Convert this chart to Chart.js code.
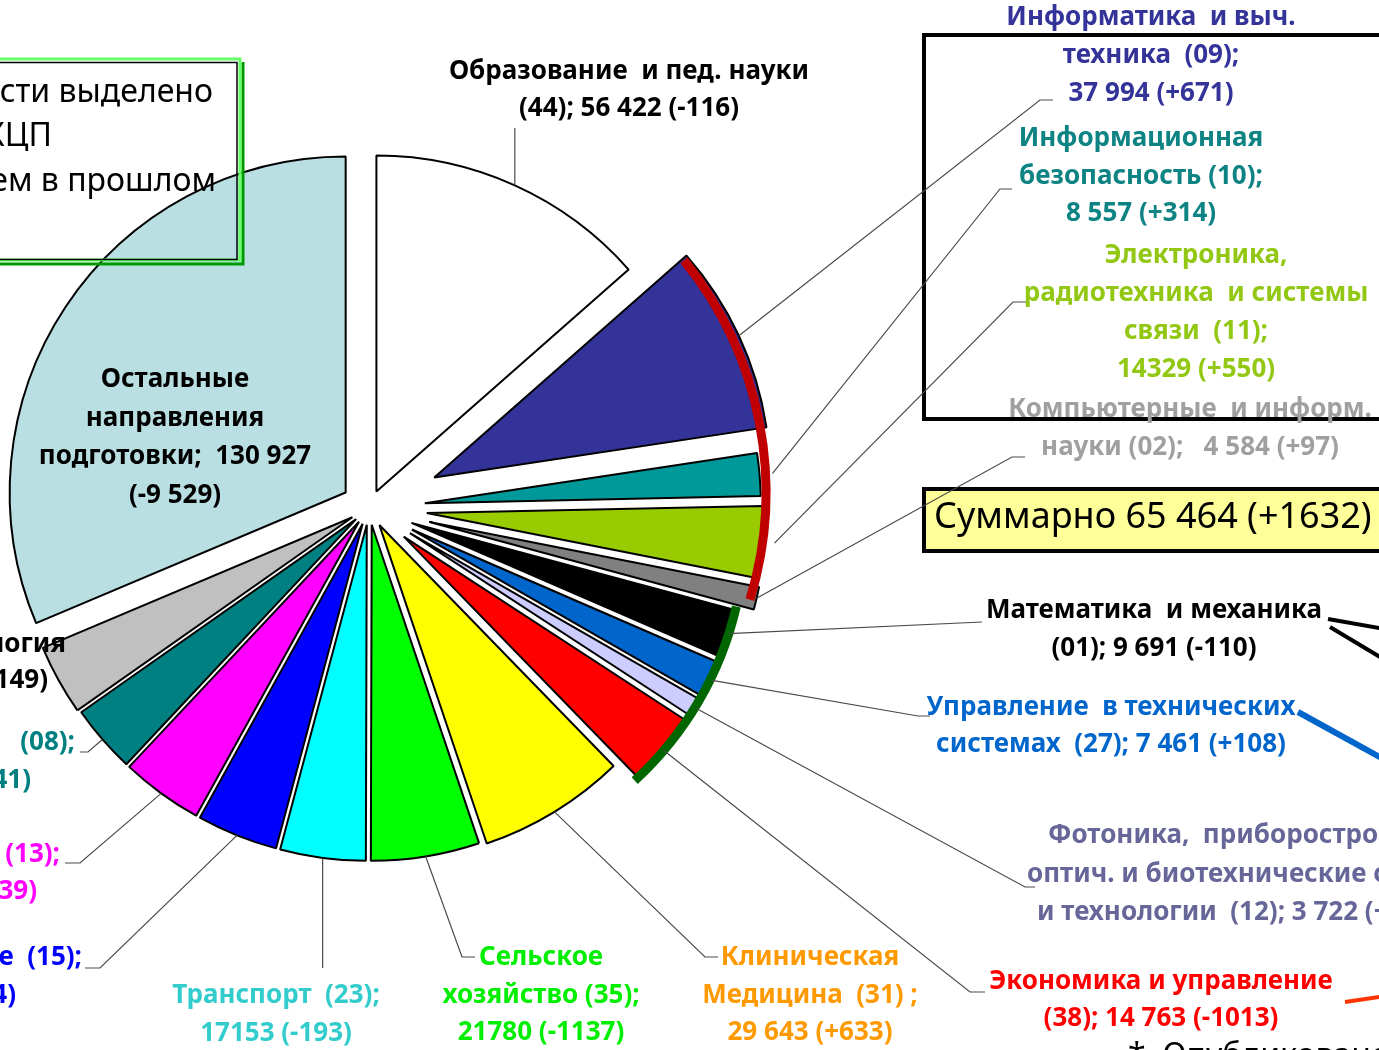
<!DOCTYPE html>
<html>
<head>
<meta charset="utf-8">
<script src="https://cdn.jsdelivr.net/npm/chart.js@4"></script>
<style>
  html, body { margin: 0; padding: 0; background: #fff; }
  #wrap { width: 1379px; height: 1050px; }
</style>
</head>
<body>
<div id="wrap"><canvas id="chart" width="1379" height="1050"></canvas></div>
<script>
// Укрупнённые группы направлений, по часовой стрелке от 12 часов
const categories = [
  "Образование и пед. науки",
  "Информатика и выч. техника",
  "Информационная безопасность",
  "Электроника, радиотехника и системы связи",
  "Компьютерные и информ. науки",
  "Математика и механика",
  "Управление в технических системах",
  "Фотоника, приборостроение, оптич. и биотехнические системы и технологии",
  "Экономика и управление",
  "Клиническая медицина",
  "Сельское хозяйство",
  "Транспорт",
  "Машиностроение",
  "Электро- и теплоэнергетика",
  "Техника и технологии строительства",
  "Химическая технология",
  "Остальные направления подготовки"
];
const codes = ["44", "09", "10", "11", "02", "01", "27", "12", "38", "31", "35", "23", "15", "13", "08", "18", ""];
const values = [56422, 37994, 8557, 14329, 4584, 9691, 7461, 3722, 14763, 29643, 21780, 17153, 16284, 16439, 13641, 14149, 130927];
const changes = [-116, 671, 314, 550, 97, -110, 108, 58, -1013, 633, -1137, -193, -254, 339, -241, 149, -9529];

// оформление секторов
const colors = ["#FFFFFF", "#333399", "#009999", "#99CC00", "#808080", "#000000", "#0066CC", "#CCCCFF",
  "#FF0000", "#FFFF00", "#00FF00", "#00FFFF", "#0000FF", "#FF00FF", "#008080", "#C0C0C0", "#B9DFE3"];
const shift = [18, 72, 56, 58, 62, 45, 48, 48, 45, 20, 17, 17, 17, 17, 17, 19, 28]; // вынос сектора, px
const RADIUS = 336;

// число с разделителем разрядов или без него
function fmt(v, grouped = true) {
  const s = String(Math.abs(v));
  const out = grouped ? s.replace(/\B(?=(\d{3})+(?!\d))/g, " ") : s;
  return (v < 0 ? "-" : "") + out;
}
function chg(i, grouped = false) {
  return (changes[i] > 0 ? "+" : "") + fmt(changes[i], grouped);
}

const labels = [
  { i: 0, lines: ["Образование  и пед. науки", `(${codes[0]}); ${fmt(values[0])} (${chg(0)})`], x: 629, y: 72, lh: 37, color: "#000000" },
  { i: 1, lines: ["Информатика  и выч.", `техника  (${codes[1]});`, `${fmt(values[1])} (${chg(1)})`], x: 1151, y: 18, lh: 38, color: "#333399" },
  { i: 2, lines: ["Информационная", `безопасность (${codes[2]});`, `${fmt(values[2])} (${chg(2)})`], x: 1141, y: 139, lh: 37.5, color: "#0E8383" },
  { i: 3, lines: ["Электроника,", "радиотехника  и системы", `связи  (${codes[3]});`, `${fmt(values[3], false)} (${chg(3)})`], x: 1196, y: 256, lh: 38, color: "#92C814" },
  { i: 4, lines: ["Компьютерные  и информ.", `науки (${codes[4]});   ${fmt(values[4])} (${chg(4)})`], x: 1190, y: 410, lh: 38, color: "#A0A0A0" },
  { i: 5, lines: ["Математика  и механика", `(${codes[5]}); ${fmt(values[5])} (${chg(5)})`], x: 1154, y: 611, lh: 38, color: "#000000" },
  { i: 6, lines: ["Управление  в технических", `системах  (${codes[6]}); ${fmt(values[6])} (${chg(6)})`], x: 1111, y: 708, lh: 37, color: "#0066CC" },
  { i: 7, lines: ["Фотоника,  приборостроение,", "оптич. и биотехнические системы", `и технологии  (${codes[7]}); ${fmt(values[7])} (${chg(7)})`], xs: [1048, 1027, 1037], align: "left", y: 836, lh: 38.5, color: "#666699" },
  { i: 8, lines: ["Экономика и управление", `(${codes[8]}); ${fmt(values[8])} (${chg(8)})`], x: 1161, y: 982, lh: 37, color: "#FF0000" },
  { i: 9, lines: ["Клиническая", `Медицина  (${codes[9]}) ;`, `${fmt(values[9])} (${chg(9)})`], x: 810, y: 958, lh: 37.5, color: "#FF9900" },
  { i: 10, lines: ["Сельское", `хозяйство (${codes[10]});`, `${fmt(values[10], false)} (${chg(10)})`], x: 541, y: 958, lh: 37.5, color: "#00EE00" },
  { i: 11, lines: [`Транспорт  (${codes[11]});`, `${fmt(values[11], false)} (${chg(11)})`], x: 276, y: 996, lh: 37.5, color: "#33CCCC" },
  { i: 12, lines: [`Машиностроение  (${codes[12]});`, `${fmt(values[12])} (${chg(12)})`], xs: [82, 16], align: "right", y: 958, lh: 38, color: "#0000FF" },
  { i: 13, lines: [`Электро- и теплоэнергетика  (${codes[13]});`, `${fmt(values[13])} (${chg(13)})`], xs: [60, 37], align: "right", y: 855, lh: 37, color: "#FF00FF" },
  { i: 14, lines: [`Строительство   (${codes[14]});`, `${fmt(values[14])} (${chg(14)})`], xs: [75, 31], align: "right", y: 743, lh: 38, color: "#008080" },
  { i: 15, lines: ["Химическая технология", `(${codes[15]}); ${fmt(values[15])} (${chg(15, true)})`], xs: [66, 48], align: "right", y: 645, lh: 36, color: "#000000" },
  { i: 16, lines: ["Остальные", "направления", `подготовки;  ${fmt(values[16])}`, `(${chg(16, true)})`], x: 175, y: 380, lh: 38.5, color: "#000000" }
];

// выноски: сектор -> излом -> подпись
const leaders = [
  { i: 0, pts: [[null, 128]] },
  { i: 1, pts: [[1040, 100], [1053, 100]] },
  { i: 2, extra: 13, pts: [[1000, 189], [1012, 189]] },
  { i: 3, extra: 13, pts: [[1013, 302], [1027, 302]] },
  { i: 4, pts: [[1012, 457], [1025, 457]] },
  { i: 5, pts: [[982, 622]] },
  { i: 6, pts: [[918, 716], [930, 716]] },
  { i: 7, pts: [[1025, 887], [1035, 887]] },
  { i: 8, pts: [[970, 992], [985, 992]] },
  { i: 9, pts: [[705, 957], [718, 957]] },
  { i: 10, pts: [[462, 957], [475, 957]] },
  { i: 11, pts: [[null, 968]] },
  { i: 12, pts: [[100, 968], [85, 968]] },
  { i: 13, pts: [[80, 863], [65, 863]] },
  { i: 14, pts: [[88, 752], [80, 752]] }
];

const LABEL_FONT = "bold 26px 'Noto Sans'";

// вынос секторов: сдвигаем центр каждой дуги вдоль её биссектрисы
const explode = {
  id: "explode",
  beforeDatasetsDraw(chart) {
    const ca = chart.chartArea;
    const cx = (ca.left + ca.right) / 2;
    const cy = (ca.top + ca.bottom) / 2;
    chart.getDatasetMeta(0).data.forEach((el, i) => {
      const mid = (el.startAngle + el.endAngle) / 2;
      el.x = cx + Math.cos(mid) * shift[i];
      el.y = cy + Math.sin(mid) * shift[i];
    });
  }
};

function drawLines(ctx, lab) {
  ctx.fillStyle = lab.color;
  ctx.textBaseline = "middle";
  lab.lines.forEach((ln, k) => {
    let x = lab.x;
    ctx.textAlign = "center";
    if (lab.xs) { x = lab.xs[k]; ctx.textAlign = lab.align; }
    ctx.fillText(ln, x, lab.y + k * lab.lh);
  });
}

const overlay = {
  id: "overlay",
  afterDatasetsDraw(chart) {
    const ctx = chart.ctx;
    const arcs = chart.getDatasetMeta(0).data;
    ctx.save();

    // дуги-группировки
    const arcDeg = (cx, cy, r, a0, a1, color) => {
      ctx.beginPath();
      ctx.arc(cx, cy, r, (a0 - 90) * Math.PI / 180, (a1 - 90) * Math.PI / 180);
      ctx.strokeStyle = color;
      ctx.lineWidth = 9;
      ctx.lineCap = "butt";
      ctx.stroke();
    };
    arcDeg(398, 492, 368, 51, 107, "#C00000");
    arcDeg(405, 530, 340, 103, 137.5, "#006600");

    // рамка ИТ-направлений
    ctx.strokeStyle = "#000";
    ctx.lineWidth = 4;
    ctx.strokeRect(924, 35, 470, 384);

    // итоговая плашка
    const it = [1, 2, 3, 4];
    const sum = it.reduce((s, i) => s + values[i], 0);
    const sumChg = it.reduce((s, i) => s + changes[i], 0);
    ctx.fillStyle = "#FFFF99";
    ctx.fillRect(924, 489, 470, 62);
    ctx.strokeRect(924, 489, 470, 62);
    ctx.fillStyle = "#000";
    ctx.font = "36px 'Noto Sans'";
    ctx.textAlign = "left";
    ctx.textBaseline = "middle";
    ctx.fillText(`Суммарно ${fmt(sum)} (+${sumChg})`, 934, 518);

    // выноски
    ctx.strokeStyle = "#4A4A4A";
    ctx.lineWidth = 1.2;
    ctx.lineCap = "butt";
    leaders.forEach(ld => {
      const el = arcs[ld.i];
      const mid = (el.startAngle + el.endAngle) / 2;
      const d = el.outerRadius + (ld.extra || 0);
      const sx = el.x + Math.cos(mid) * d;
      const sy = el.y + Math.sin(mid) * d;
      ctx.beginPath();
      ctx.moveTo(sx, sy);
      ld.pts.forEach(p => ctx.lineTo(p[0] === null ? sx : p[0], p[1]));
      ctx.stroke();
    });

    // подписи
    ctx.font = LABEL_FONT;
    labels.forEach(lab => drawLines(ctx, lab));

    // врезка слева сверху
    ctx.lineWidth = 3;
    ctx.strokeStyle = "#009900";
    ctx.beginPath();
    ctx.moveTo(-5, 264); ctx.lineTo(243, 264); ctx.lineTo(243, 62);
    ctx.stroke();
    ctx.strokeStyle = "#66FF66";
    ctx.strokeRect(-10, 59, 250, 201);
    ctx.lineWidth = 1.5;
    ctx.strokeStyle = "#000";
    ctx.strokeRect(-10, 62.5, 247, 197);
    ctx.fillStyle = "#000";
    ctx.font = "32px 'Noto Sans'";
    ctx.textAlign = "right";
    ctx.textBaseline = "middle";
    ctx.fillText("Для ИТ-области выделено", 213, 93);
    ctx.fillText("больше КЦП", 52, 137);
    ctx.fillText("чем в прошлом", 216, 182);

    // стрелки к соседним блокам слайда
    const seg = (x0, y0, x1, y1, w, c) => {
      ctx.beginPath(); ctx.moveTo(x0, y0); ctx.lineTo(x1, y1);
      ctx.lineWidth = w; ctx.strokeStyle = c; ctx.stroke();
    };
    seg(1328, 619, 1385, 629, 4, "#000");
    seg(1330, 627, 1385, 660, 4, "#000");
    seg(1298, 712, 1385, 760, 6, "#0066CC");
    seg(1345, 1002, 1385, 996, 4, "#FF3300");

    // сноска
    ctx.fillStyle = "#000";
    ctx.font = "32px 'Noto Sans'";
    ctx.textAlign = "left";
    ctx.textBaseline = "alphabetic";
    ctx.fillText("*  Опубликовано", 1128, 1066);

    ctx.restore();
  }
};

const ctx = document.getElementById("chart").getContext("2d");
new Chart(ctx, {
  type: "pie",
  data: {
    labels: categories,
    datasets: [{
      data: values,
      backgroundColor: colors,
      borderColor: "#000000",
      borderWidth: 2,
      radius: RADIUS
    }]
  },
  options: {
    responsive: false,
    animation: false,
    layout: { padding: { left: 0, right: 641, top: 0, bottom: 34 } },
    plugins: {
      legend: { display: false },
      tooltip: { enabled: false }
    }
  },
  plugins: [explode, overlay]
});
</script>
</body>
</html>
